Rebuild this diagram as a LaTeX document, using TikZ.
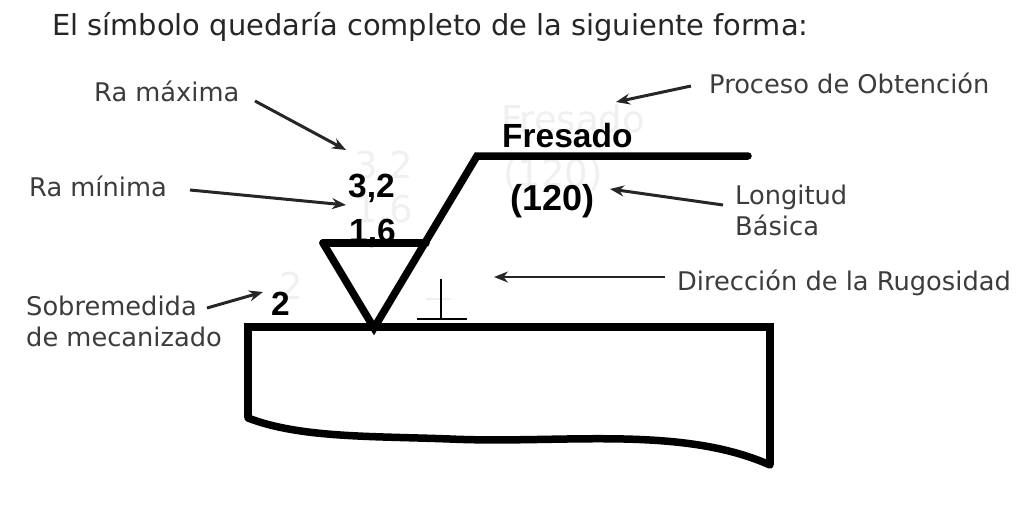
\documentclass[tikz,border=0pt]{standalone}
\usepackage{fontspec}
\setmainfont{DejaVu Sans}
\newfontfamily\boldarial[BoldFont={Liberation Sans Bold}]{Liberation Sans}
\usetikzlibrary{arrows.meta}
\definecolor{labelgray}{RGB}{60,60,60}
\definecolor{ghost}{RGB}{240,240,240}
\tikzset{
  lab/.style={inner sep=0pt,anchor=base west,text=labelgray,font=\fontsize{25.7}{31}\selectfont,align=left},
  val/.style={inner sep=0pt,anchor=base west,text=black,font=\boldarial\bfseries\fontsize{33.5}{38}\selectfont},
  faint/.style={inner sep=0pt,anchor=base west,text=ghost,font=\fontsize{37}{41}\selectfont},
  thick line/.style={line width=7.5pt,black,line join=miter,line cap=round},
  call/.style={line width=3pt,black!85,-{Stealth[length=14pt,width=11pt]}},
}
\begin{document}
\begin{tikzpicture}[x=1pt,y=-1pt]
\useasboundingbox (0,0) rectangle (1034,504);
% faint ghost print
\node[faint] (g1) at (501,132) {Fresado};
\node[faint] (g2) at (503,186) {(120)};
\node[faint] (g3) at (354,178) {3,2};
\node[faint] (g4) at (354,222) {1,6};
\node[faint] (g5) at (279,299) {2};
\draw[ghost,line width=1.5pt] (426,299) -- (451,299);
% header
\node[lab,text=black!85,font=\fontsize{28.9}{34}\selectfont] (title) at (52,35) {El símbolo quedaría completo de la siguiente forma:};
% labels
\node[lab] (ramax) at (94,101) {Ra máxima};
\node[lab] (ramin) at (29,196) {Ra mínima};
\node[lab] (sobre) at (26,346) {Sobremedida\\de mecanizado};
\node[lab] (proc) at (709,93) {Proceso de Obtención};
\node[lab] (longi) at (735,235) {Longitud\\Básica};
\node[lab] (dir) at (677,290) {Dirección de la Rugosidad};
% values
\node[val] (fres) at (502,147) {Fresado};
\node[val,font=\boldarial\bfseries\fontsize{36}{40}\selectfont] (v120) at (510,210) {(120)};
\node[val] (v32) at (348,197) {3,2};
\node[val] (v16) at (349,242) {1,6};
\node[val] (v2) at (271,315) {2};
% arrow ends
\coordinate (amax0) at (255,101);
\coordinate (amax1) at (346,150);
\coordinate (amin0) at (190,190);
\coordinate (amin1) at (346,205);
\coordinate (aso0) at (207,308);
\coordinate (aso1) at (263,292);
\coordinate (apr0) at (691,86);
\coordinate (apr1) at (616,102);
\coordinate (alo0) at (723,205);
\coordinate (alo1) at (610,189);
\coordinate (adi0) at (665,277);
\coordinate (adi1) at (494,277);
\draw[call] (amax0) -- (amax1);
\draw[call] (amin0) -- (amin1);
\draw[call] (aso0) -- (aso1);
\draw[call] (apr0) -- (apr1);
\draw[call] (alo0) -- (alo1);
\draw[call,line width=2pt] (adi0) -- (adi1);
% symbol
\draw[thick line] (323,243) -- (426,243);
\draw[thick line] (323,243) -- (374,328) -- (477,156) -- (748,156);
% lay
\draw[black,line width=1.5pt] (417,319) -- (467,319) (441,279) -- (441,319);
% workpiece
\draw[thick line,line width=8.5pt,line cap=butt] (248,418) -- (248,327) -- (770,327) -- (770,465);
\draw[thick line] (248,418) .. controls (300,438) and (370,436) .. (450,439)
  .. controls (560,444) and (680,425) .. (770,465);
\end{tikzpicture}
\end{document}
